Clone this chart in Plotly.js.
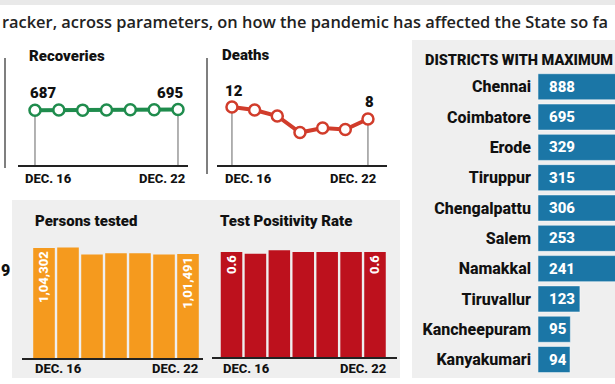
<!DOCTYPE html>
<html><head><meta charset="utf-8">
<script src="https://cdn.plot.ly/plotly-3.0.1.min.js"></script>
<style>html,body{margin:0;padding:0;background:#fff}#c{width:615px;height:384px}</style>
</head><body><div id="c"></div>
<script>
// ---- data ----
const headerText = 'racker, across parameters, on how the pandemic has affected the State so fa';
const days = ['Dec 16','Dec 17','Dec 18','Dec 19','Dec 20','Dec 21','Dec 22'];
const dayLabels = ['DEC. 16','DEC. 22'];
const recoveries = [687, 689, 688, 690, 692, 693, 695];
const deaths = [12, 11, 9, 3.5, 5, 4.5, 8];
const personsTested = [104302, 104550, 101300, 101800, 101800, 101200, 101491];
const personsLabels = ['1,04,302','','','','','','1,01,491'];
const tpr = [0.6, 0.59, 0.61, 0.6, 0.6, 0.6, 0.6];
const tprLabels = ['0.6','','','','','','0.6'];
const districts = ['Chennai','Coimbatore','Erode','Tiruppur','Chengalpattu','Salem','Namakkal','Tiruvallur','Kancheepuram','Kanyakumari'];
const districtCases = [888, 695, 329, 315, 306, 253, 241, 123, 95, 94];
const titles = ['Recoveries','Deaths','Persons tested','Test Positivity Rate','DISTRICTS WITH MAXIMUM'];
const leftCut = '9';

// ---- helpers ----
const W = 615, H = 384;
const px = v => v / W;
const py = v => 1 - v / H;
const GREEN = '#1f8c4d', RED = '#d13c2b', ORANGE = '#f59a1e', DRED = '#bd111d', BLUE = '#1b76a6';
const TF = {family: 'Roboto, Arial, sans-serif', size: 15, color: '#111', weight: 900};
const DF = {family: 'Roboto, Arial, sans-serif', size: 13, color: '#111', weight: 800};

const traces = [
  {type:'scatter', mode:'lines+markers', x: days, y: recoveries, xaxis:'x', yaxis:'y',
   line:{color: GREEN, width: 4}, marker:{size: 11, color:'#fff', line:{color: GREEN, width: 2.5}}, hoverinfo:'skip'},
  {type:'scatter', mode:'lines+markers', x: days, y: deaths, xaxis:'x2', yaxis:'y2',
   line:{color: RED, width: 4}, marker:{size: 11, color:'#fff', line:{color: RED, width: 2.5}}, hoverinfo:'skip'},
  {type:'bar', x: days, y: personsTested, xaxis:'x3', yaxis:'y3', width: 0.9,
   marker:{color: ORANGE}, text: personsLabels, textposition:'inside', insidetextanchor:'end', textangle:-90,
   textfont:{family:'Roboto, Arial, sans-serif', size: 15, color:'#fff', weight: 800}, hoverinfo:'skip'},
  {type:'bar', x: days, y: tpr, xaxis:'x4', yaxis:'y4', width: 0.9,
   marker:{color: DRED}, text: tprLabels, textposition:'inside', insidetextanchor:'end', textangle:-90,
   textfont:{family:'Roboto, Arial, sans-serif', size: 15, color:'#fff', weight: 800}, hoverinfo:'skip'},
  {type:'bar', orientation:'h', y: districts, x: districtCases, xaxis:'x5', yaxis:'y5', width: 0.86,
   marker:{color: BLUE, line:{color:'rgba(255,255,255,0.5)', width: 1}}, hoverinfo:'skip'}
];

const baseAx = {showgrid:false, zeroline:false, showticklabels:false, ticks:'', fixedrange:true};
const xLine = Object.assign({}, baseAx, {type:'category', showline:true, linecolor:'#222', linewidth:1.5});

const layout = {
  width: W, height: H, margin:{l:0,r:0,t:0,b:0}, showlegend:false,
  paper_bgcolor:'#fff', plot_bgcolor:'rgba(0,0,0,0)',
  xaxis: Object.assign({}, xLine, {anchor:'y', domain:[px(18), px(188)], range:[-0.713, 6.42]}),
  yaxis: Object.assign({}, baseAx, {anchor:'x', domain:[py(165), py(80)], range:[0, 1066]}),
  xaxis2: Object.assign({}, xLine, {anchor:'y2', domain:[px(217), px(387)], range:[-0.66, 6.84]}),
  yaxis2: Object.assign({}, baseAx, {anchor:'x2', domain:[py(165), py(80)], range:[-7.33, 21]}),
  xaxis3: Object.assign({}, xLine, {anchor:'y3', domain:[px(22), px(203)], range:[-0.917, 6.625]}),
  yaxis3: Object.assign({}, baseAx, {anchor:'x3', domain:[py(358), py(240)], range:[52767, 108048]}),
  xaxis4: Object.assign({}, xLine, {anchor:'y4', domain:[px(212), px(397)], range:[-0.816, 6.92]}),
  yaxis4: Object.assign({}, baseAx, {anchor:'x4', domain:[py(357), py(240)], range:[0, 0.6686]}),
  xaxis5: Object.assign({}, baseAx, {anchor:'y5', domain:[px(538), 1], range:[0, 226]}),
  yaxis5: Object.assign({}, baseAx, {anchor:'x5', type:'category', domain:[py(374.7), py(71.6)], autorange:'reversed',
           showticklabels:true, ticklabelstandoff:6,
           tickfont:{family:'Roboto, Arial, sans-serif', size:16, color:'#111', weight:800}}),
  shapes: [
    {type:'rect', xref:'paper', yref:'paper', x0:0, x1:1, y0:py(5), y1:1, fillcolor:'#e9e9e9', line:{width:0}, layer:'below'},
    {type:'rect', xref:'paper', yref:'paper', x0:px(12), x1:px(400), y0:py(378), y1:py(200), fillcolor:'#efefef', line:{width:0}, layer:'below'},
    {type:'rect', xref:'paper', yref:'paper', x0:px(412), x1:1, y0:py(378), y1:py(40), fillcolor:'#efefef', line:{width:0}, layer:'below'},
    {type:'line', xref:'paper', yref:'paper', x0:px(5), x1:px(5), y0:py(58), y1:py(168), line:{color:'#555', width:1.5}},
    {type:'line', xref:'paper', yref:'paper', x0:px(207), x1:px(207), y0:py(58), y1:py(174), line:{color:'#555', width:1.5}}
  ],
  annotations: []
};

// drop lines from first/last point to the axis
[[ 'x','y', recoveries, 0 ], ['x2','y2', deaths, -7.33]].forEach(([xa, ya, vals, y0]) => {
  [0, vals.length - 1].forEach(i => {
    layout.shapes.push({type:'line', xref:xa, yref:ya, x0:i, x1:i, y0:y0, y1:vals[i], line:{color:'#666', width:1}, layer:'below'});
  });
});

const A = layout.annotations;
A.push({xref:'paper', yref:'paper', x:0, y:py(22), xanchor:'left', yanchor:'middle', showarrow:false, text:headerText,
        font:{family:'"Open Sans", sans-serif', size:16.4, color:'#222', weight:600}});
A.push({xref:'paper', yref:'paper', x:0, y:py(270), xanchor:'left', yanchor:'middle', xshift:-1, showarrow:false, text:leftCut,
        font:{family:'Roboto, Arial, sans-serif', size:16, color:'#111', weight:900}});
// titles
[[titles[0], 27, 56], [titles[1], 220, 55], [titles[2], 33, 221], [titles[3], 218, 221]].forEach(([t, x, y]) => {
  A.push({xref:'paper', yref:'paper', x:px(x), y:py(y), xanchor:'left', yanchor:'middle', showarrow:false, text:t, font:TF});
});
A.push({xref:'paper', yref:'paper', x:px(423), y:py(61), xanchor:'left', yanchor:'middle', showarrow:false, text:titles[4],
        font:{family:'Roboto, Arial, sans-serif', size:14.5, color:'#111', weight:900}});
// date labels
[['x', 178, -12, 9], ['x2', 178, -9, 10], ['x3', 368, -11, 12], ['x4', 368, -10.5, 13]].forEach(([xa, y, s0, s1]) => {
  A.push({xref:xa, yref:'paper', x:0, y:py(y), xanchor:'left', yanchor:'middle', xshift:s0, showarrow:false, text:dayLabels[0], font:DF});
  A.push({xref:xa, yref:'paper', x:6, y:py(y), xanchor:'right', yanchor:'middle', xshift:s1, showarrow:false, text:dayLabels[1], font:DF});
});
// end values on line charts
const VF = {family:'Roboto, Arial, sans-serif', size:15, color:'#111', weight:900};
A.push({xref:'x', yref:'y', x:0, y:recoveries[0], xshift:8, yshift:17, showarrow:false, text:String(recoveries[0]), font:VF});
A.push({xref:'x', yref:'y', x:6, y:recoveries[6], xshift:-8, yshift:17, showarrow:false, text:String(recoveries[6]), font:VF});
A.push({xref:'x2', yref:'y2', x:0, y:deaths[0], xshift:2, yshift:16, showarrow:false, text:String(deaths[0]), font:VF});
A.push({xref:'x2', yref:'y2', x:6, y:deaths[6], xshift:2, yshift:17, showarrow:false, text:String(deaths[6]), font:VF});
// district values inside bars
districts.forEach((d, i) => {
  A.push({xref:'x5', yref:'y5', x:0, y:d, xanchor:'left', yanchor:'middle', xshift:9, showarrow:false,
          text:String(districtCases[i]), font:{family:'Roboto, Arial, sans-serif', size:15, color:'#fff', weight:800}});
});

Plotly.newPlot('c', traces, layout, {staticPlot:true, displayModeBar:false});
</script></body></html>
